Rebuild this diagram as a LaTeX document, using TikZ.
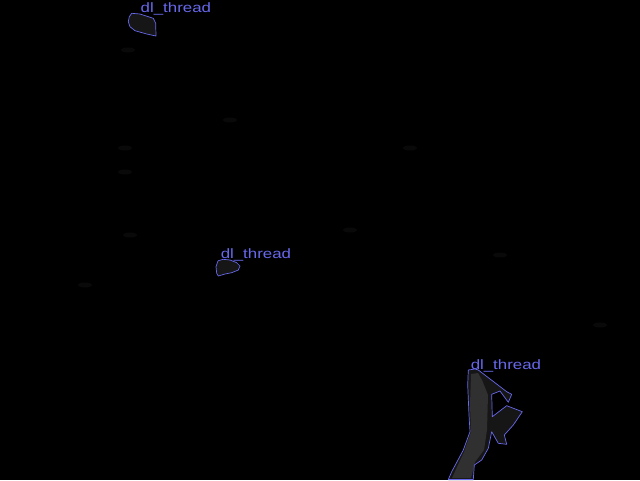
\documentclass[tikz,border=0pt]{standalone}
\usepackage{fontspec}
\setmainfont{Liberation Sans}
\definecolor{dlblue}{RGB}{104,104,236}
\definecolor{fillgray}{RGB}{22,22,22}
\definecolor{stemgray}{RGB}{48,48,48}

\begin{document}
\begin{tikzpicture}[x=1pt,y=-1pt,line join=round,
    outline/.style={draw=dlblue,line width=0.7pt},
    tag/.style={text=dlblue,font=\fontsize{13.6}{14}\selectfont,anchor=base west,
        inner sep=0pt,xscale=1.24,transform shape}]

    % Background
    \fill[black] (0,0) rectangle (640,480);
    \useasboundingbox (0,0) rectangle (640,480);

    % Faint smudges
    \foreach \px/\py in {128/50,230/120,125/148,125/172,130/235,350/230,410/148,500/255,600/325,85/285}
        \fill[black!93!white,opacity=0.5] (\px,\py) ellipse (7 and 2.5);

    % Region 1 (top)
    \draw[outline,fill=fillgray] (131.7,13.3) -- (140,14) -- (153.3,18.3) -- (155.7,23.3)
        -- (156,36) -- (146.7,34) -- (135,30.7) -- (130,26.7) -- (128.3,21.7)
        -- (129.3,16.7) -- cycle;
    \node[tag] (thread1) at (140.5,12) {dl\_thread};

    % Region 2 (middle)
    \draw[outline,fill=fillgray] (218.3,260.7) -- (223.3,259.3) -- (230,260) -- (236.7,262.7)
        -- (240,266) -- (238.3,270) -- (231.7,272.7) -- (225,274) -- (218.3,276)
        -- (216.7,273.3) -- (216,266.7) -- (217.7,261.7) -- cycle;
    \node[tag] (thread2) at (220.5,258.5) {dl\_thread};

    % Region 3 (bottom right)
    \fill[fillgray] (468.3,370) -- (478.3,370) -- (506.7,391.7) -- (511.7,394.3)
        -- (508.3,402.3) -- (500,391) -- (491.7,394.3) -- (492.3,416.7)
        -- (506.7,405.7) -- (522.3,411.7) -- (513.3,425) -- (504.3,435)
        -- (506.7,444.3) -- (498.3,443.3) -- (491.7,431.7) -- (488.3,448.3)
        -- (481.7,460) -- (474.3,465) -- (473.3,480) -- (448.3,480)
        -- (451.7,471.7) -- (463.3,450) -- (470,431.7) -- (469,415)
        -- (467.7,385) -- cycle;
    % Stem shading
    \fill[stemgray] (471,374) -- (478,373) -- (482,380) -- (488,395) -- (487,430)
        -- (484,450) -- (475,462) -- (471,478) -- (452,478) -- (464,452)
        -- (471,432) -- (470,405) -- cycle;
    \draw[outline] (468.3,370) -- (475,369) -- (478.3,370) -- (506.7,391.7) -- (511.7,394.3)
        -- (508.3,402.3) -- (500,391) -- (491.7,394.3) -- (492.3,416.7)
        -- (506.7,405.7) -- (522.3,411.7) -- (513.3,425) -- (504.3,435)
        -- (506.7,444.3) -- (498.3,443.3) -- (491.7,431.7) -- (488.3,448.3)
        -- (481.7,460) -- (474.3,465) -- (473.3,479.5) -- (448.3,479.5)
        -- (451.7,471.7) -- (463.3,450) -- (470,431.7) -- (469,415)
        -- (467.7,385) -- cycle;
    \node[tag] (thread3) at (470.5,369.5) {dl\_thread};

\end{tikzpicture}
\end{document}
